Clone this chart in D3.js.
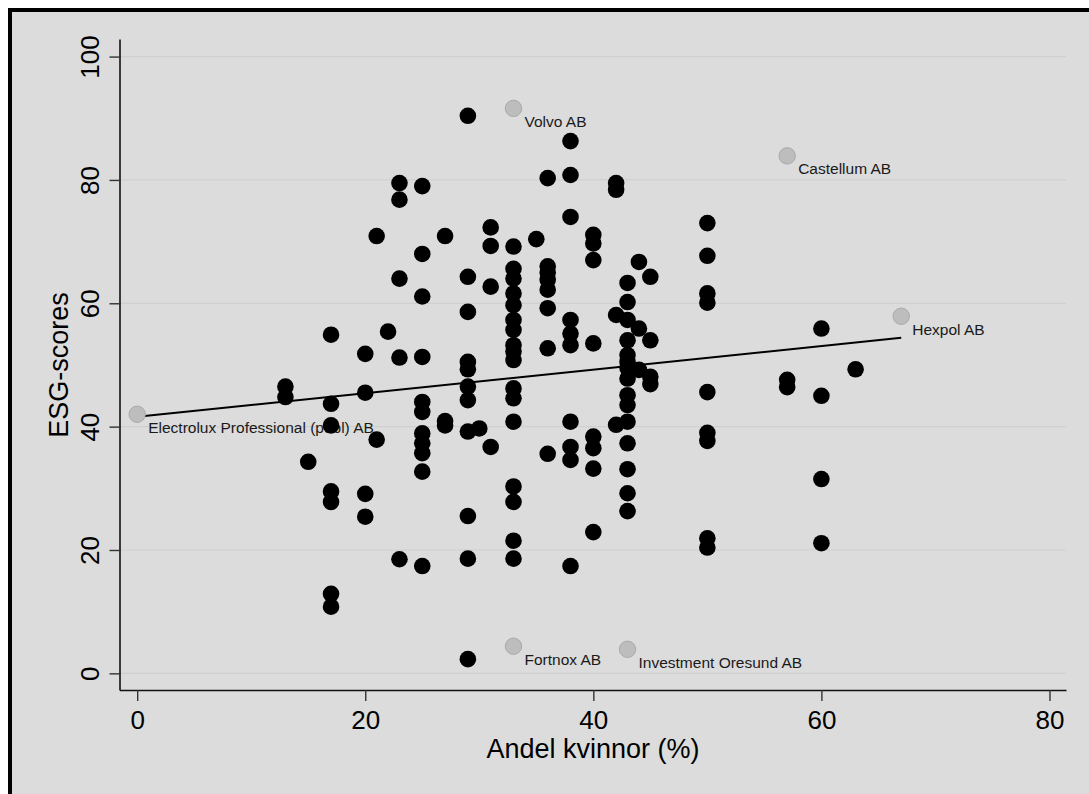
<!DOCTYPE html>
<html>
<head>
<meta charset="utf-8">
<script src="https://cdn.jsdelivr.net/npm/d3@7"></script>
<style>
  body { margin: 0; background: #fff; }
  svg { display: block; font-family: "Liberation Sans", Arial, Helvetica, sans-serif; }
</style>
</head>
<body>
<div id="chart"></div>
<script>
// share of women (%) per column of points, and the ESG-scores at that share
var shareColumns = [13, 15, 17, 20, 21, 22, 23, 25, 27, 29, 30, 31, 33, 35, 36, 38, 40, 42, 43, 44, 45, 50, 57, 60, 63];
var scoreColumns = [
  [46.5, 44.8],
  [34.3],
  [54.9, 43.7, 40.2, 29.5, 27.8, 12.9, 10.8],
  [51.8, 45.5, 29.1, 25.4],
  [70.9, 37.9],
  [55.4],
  [79.5, 76.8, 64.0, 51.2, 18.5],
  [79.0, 68.0, 61.1, 51.3, 44.0, 42.4, 38.9, 37.3, 35.7, 32.7, 17.4],
  [70.9, 40.9, 40.2],
  [90.4, 64.3, 58.6, 50.5, 49.3, 46.5, 44.3, 39.2, 25.5, 18.6, 2.3],
  [39.7],
  [72.3, 69.3, 62.7, 36.7],
  [69.2, 65.6, 64.0, 61.6, 59.7, 57.3, 55.7, 53.2, 52.2, 50.8, 46.2, 44.6, 40.8, 30.3, 27.8, 21.5, 18.6],
  [70.4],
  [80.3, 66.0, 65.0, 63.8, 62.2, 59.2, 52.7, 35.6],
  [86.3, 80.8, 74.0, 57.3, 55.1, 53.2, 40.8, 36.7, 34.6, 17.4],
  [71.1, 69.7, 67.0, 53.5, 38.4, 36.5, 33.2, 22.9],
  [79.5, 78.4, 58.1, 40.3],
  [63.3, 60.2, 57.3, 54.0, 51.6, 50.5, 49.5, 47.8, 45.1, 43.5, 40.8, 37.3, 33.1, 29.2, 26.3],
  [66.7, 55.9, 49.2],
  [64.3, 54.0, 48.1, 46.9],
  [73.0, 67.7, 61.6, 60.1, 45.6, 39.0, 37.7, 21.9, 20.4],
  [47.6, 46.4],
  [55.9, 45.0, 31.5, 21.1],
  [49.3]
];

// labelled firms
var firmNames = ["Volvo AB", "Castellum AB", "Hexpol AB", "Electrolux Professional (publ) AB", "Fortnox AB", "Investment Oresund AB"];
var firmShare = [33, 57, 67, 0, 33, 43];
var firmScore = [91.6, 83.9, 57.9, 42.0, 4.4, 3.9];

// linear fit
var fitShare = [0, 67];
var fitScore = [41.6, 54.4];

var xTicks = [0, 20, 40, 60, 80];
var yTicks = [0, 20, 40, 60, 80, 100];

var points = [];
shareColumns.forEach(function(s, i) {
  scoreColumns[i].forEach(function(v) { points.push({x: s, y: v}); });
});
var firms = firmNames.map(function(n, i) { return {name: n, x: firmShare[i], y: firmScore[i]}; });

var svgWidth = 1089;
var svgHeight = 794;

var svg = d3.select("#chart")
  .append("svg")
  .attr("width", svgWidth)
  .attr("height", svgHeight);

// frame (right/bottom edges fall outside the picture)
svg.append("rect")
  .attr("x", 10).attr("y", 10)
  .attr("width", svgWidth + 20).attr("height", svgHeight + 20)
  .attr("fill", "#dcdcdc")
  .attr("stroke", "#000")
  .attr("stroke-width", 4);

var xScale = d3.scaleLinear().domain([-1.55, 81.45]).range([119.5, 1066]);
var yScale = d3.scaleLinear().domain([-2.7, 102.85]).range([690, 39]);

// gridlines
svg.append("g")
  .selectAll("line")
  .data(yTicks)
  .enter()
  .append("line")
  .attr("x1", 119.5).attr("x2", 1066)
  .attr("y1", d => yScale(d)).attr("y2", d => yScale(d))
  .attr("stroke", "#cfcfcf")
  .attr("stroke-width", 1.2);

// x axis
var xAxis = svg.append("g")
  .attr("transform", "translate(0,690)")
  .call(d3.axisBottom(xScale).tickValues(xTicks).tickSize(11).tickSizeOuter(0));
xAxis.select(".domain").attr("stroke", "#111").attr("stroke-width", 1.6);
xAxis.selectAll(".tick line").attr("stroke", "#333").attr("stroke-width", 1.4);
xAxis.selectAll(".tick text")
  .attr("y", 39).attr("dy", null)
  .attr("fill", "#000")
  .style("font-size", "26px");
xAxis.attr("font-family", null).attr("font-size", null);

// y axis
var yAxis = svg.append("g")
  .attr("transform", "translate(119.5,0)")
  .call(d3.axisLeft(yScale).tickValues(yTicks).tickSize(10).tickSizeOuter(0));
yAxis.select(".domain").attr("stroke", "#111").attr("stroke-width", 1.6);
yAxis.selectAll(".tick line").attr("stroke", "#333").attr("stroke-width", 1.4);
yAxis.selectAll(".tick text")
  .attr("transform", "rotate(-90)")
  .attr("x", 0).attr("y", -21).attr("dy", null)
  .attr("text-anchor", "middle")
  .attr("fill", "#000")
  .style("font-size", "26px");
yAxis.attr("font-family", null).attr("font-size", null);

// axis titles
svg.append("text")
  .attr("x", 593).attr("y", 758)
  .attr("text-anchor", "middle")
  .style("font-size", "27px")
  .text("Andel kvinnor (%)");

svg.append("text")
  .attr("transform", "translate(68,365) rotate(-90)")
  .attr("text-anchor", "middle")
  .style("font-size", "27px")
  .text("ESG-scores");

// fitted line
var line = d3.line().x(d => xScale(d[0])).y(d => yScale(d[1]));
svg.append("path")
  .datum(fitShare.map((s, i) => [s, fitScore[i]]))
  .attr("d", line)
  .attr("fill", "none")
  .attr("stroke", "#000")
  .attr("stroke-width", 2);

// labelled firms (grey)
svg.append("g")
  .selectAll("circle")
  .data(firms)
  .enter()
  .append("circle")
  .attr("cx", d => xScale(d.x))
  .attr("cy", d => yScale(d.y))
  .attr("r", 8.2)
  .attr("fill", "#bdbdbd")
  .attr("stroke", "#a9a9a9")
  .attr("stroke-width", 1);

svg.append("g")
  .selectAll("text")
  .data(firms)
  .enter()
  .append("text")
  .attr("x", d => xScale(d.x) + 11)
  .attr("y", d => yScale(d.y) + 18.5)
  .style("font-size", "15.5px")
  .attr("fill", "#1a1a1a")
  .text(d => d.name);

// all other firms
svg.append("g")
  .selectAll("circle")
  .data(points)
  .enter()
  .append("circle")
  .attr("cx", d => xScale(d.x))
  .attr("cy", d => yScale(d.y))
  .attr("r", 8.3)
  .attr("fill", "#000");
</script>
</body>
</html>
